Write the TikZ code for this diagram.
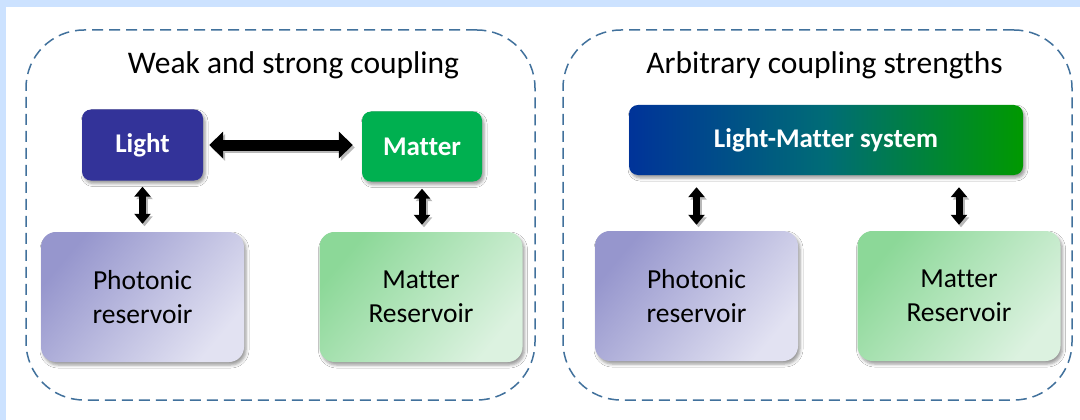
\documentclass[tikz,border=0pt]{standalone}
\usepackage{fontspec}
\setmainfont{Carlito}[Ligatures=NoCommon]
\usetikzlibrary{arrows.meta,shadows.blur}
\definecolor{bgblue}{RGB}{204,226,255}
\definecolor{dashblue}{RGB}{65,113,156}
\definecolor{lightc}{RGB}{51,51,153}
\definecolor{matterc}{RGB}{0,176,80}
\definecolor{lmleft}{RGB}{0,51,153}
\definecolor{lmmid}{RGB}{0,108,118}
\definecolor{lmright}{RGB}{0,153,0}
\definecolor{photA}{RGB}{150,150,205}
\definecolor{photB}{RGB}{226,226,242}
\definecolor{matA}{RGB}{140,216,152}
\definecolor{matB}{RGB}{220,242,224}
\tikzset{
  frame/.style={draw=dashblue, line width=1.5pt, dash pattern=on 11pt off 6pt,
    rounded corners=58pt, minimum width=509pt, minimum height=370pt, inner sep=0pt},
  softshadow/.style={blur shadow={shadow xshift=2pt, shadow yshift=-3pt,
    shadow blur radius=3pt, shadow opacity=40}},
  sysbox/.style={rounded corners=9pt, inner sep=0pt, text=white,
    font=\fontsize{27}{32}\selectfont\bfseries, softshadow},
  resbox/.style={rounded corners=15pt, minimum width=203pt, minimum height=130pt,
    inner sep=0pt, align=center, font=\fontsize{27.5}{34}\selectfont, softshadow},
  titletext/.style={font=\fontsize{31.5}{38}\selectfont, anchor=base, inner sep=0pt},
  dblH/.style={line width=11pt, {Triangle[length=14pt,width=26pt]}-{Triangle[length=14pt,width=26pt]}},
  dblV/.style={line width=7pt, {Triangle[length=10pt,width=16pt]}-{Triangle[length=10pt,width=16pt]}},
  arrshadow/.style={draw=black!28, transform canvas={xshift=2pt,yshift=-2.5pt}}
}
\begin{document}
\begin{tikzpicture}[x=1pt,y=-1pt]
\useasboundingbox (0,0) rectangle (1080,420);
\fill[bgblue] (0,0) rectangle (1080,420);
\fill[white] (6,7) rectangle (1080,420);

% frames
\node[frame] (f1) at (280.5,215) {};
\node[frame] (f2) at (817.5,215) {};
\node[titletext] (t1) at (293.5,74) {Weak and strong coupling};
\node[titletext] (t2) at (824.5,74) {Arbitrary coupling strengths};

% left panel
\node[sysbox, fill=lightc, minimum width=121pt, minimum height=71pt] (light) at (142.5,145) {Light};
\node[sysbox, fill=matterc, minimum width=120pt, minimum height=70pt] (matter) at (422,146.5) {Matter};
\node[resbox, top color=photA, bottom color=photB, shading angle=50] (phL) at (142.5,297) {Photonic\\reservoir};
\node[resbox, top color=matA, bottom color=matB, shading angle=50] (mrL) at (421,297) {Matter\\Reservoir};

% right panel
\node[sysbox, left color=lmleft, right color=lmright, middle color=lmmid,
  minimum width=394pt, minimum height=70pt] (lm) at (826,140) {Light-Matter system};
\node[resbox, top color=photA, bottom color=photB, shading angle=50] (phR) at (696.5,296) {Photonic\\reservoir};
\node[resbox, top color=matA, bottom color=matB, shading angle=50] (mrR) at (959,296) {Matter\\Reservoir};

% arrow shadows
\draw[dblH, arrshadow, shorten <=6pt, shorten >=9pt] (light.east) -- (light.east -| matter.west);
\draw[dblV, arrshadow, shorten <=6pt, shorten >=8pt] (light.south) -- (light.south |- phL.north);
\draw[dblV, arrshadow, shorten <=7pt, shorten >=7pt] (matter.south) -- (matter.south |- mrL.north);
\draw[dblV, arrshadow, shorten <=12pt, shorten >=6pt] (lm.south -| phR.north) -- (phR.north);
\draw[dblV, arrshadow, shorten <=12pt, shorten >=6pt] (lm.south -| mrR.north) -- (mrR.north);

% arrows
\draw[dblH, shorten <=6pt, shorten >=9pt] (light.east) -- (light.east -| matter.west);
\draw[dblV, shorten <=6pt, shorten >=8pt] (light.south) -- (light.south |- phL.north);
\draw[dblV, shorten <=7pt, shorten >=7pt] (matter.south) -- (matter.south |- mrL.north);
\draw[dblV, shorten <=12pt, shorten >=6pt] (lm.south -| phR.north) -- (phR.north);
\draw[dblV, shorten <=12pt, shorten >=6pt] (lm.south -| mrR.north) -- (mrR.north);
\end{tikzpicture}
\end{document}
